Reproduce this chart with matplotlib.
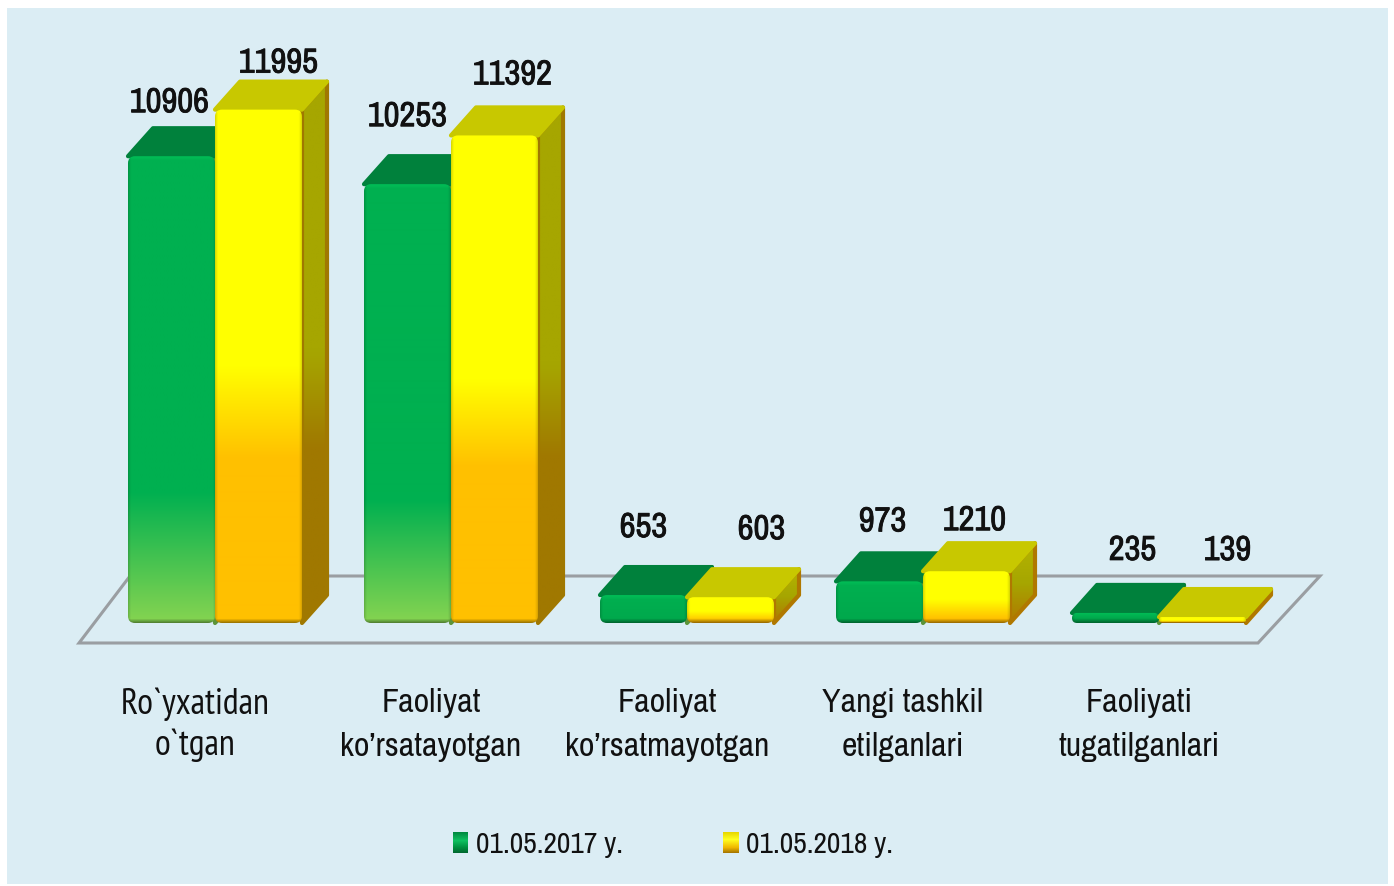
import numpy as np
import matplotlib
matplotlib.use("Agg")
import matplotlib.pyplot as plt
import matplotlib.patheffects as pe
from matplotlib.colors import to_rgb
from matplotlib.patches import FancyBboxPatch, Polygon, Rectangle

categories = ["Ro`yxatidan\no`tgan", "Faoliyat\nko’rsatayotgan", "Faoliyat\nko’rsatmayotgan",
              "Yangi tashkil\netilganlari", "Faoliyati\ntugatilganlari"]
series_names = ["01.05.2017 y.", "01.05.2018 y."]
values_2017 = [10906, 10253, 653, 973, 235]
values_2018 = [11995, 11392, 603, 1210, 139]

# label offsets from the front top centre of each bar, px
label_dx_2017 = [-2, 0, 0, 3, 17]
label_dx_2018 = [20, 18, 31, 8, 25]
label_dy_2017 = [38, 52, 52, 44, 47]
label_dy_2018 = [31, 45, 52, 35, 51]

W, H = 1394, 886
X0, Y0 = 215, 623     # px of first group centre and of the baseline
STEP = 236            # px per category
PX_PER_UNIT = 0.0428  # px per value unit
BAR_W = 87 / STEP
DEPTH_X = 25 / STEP
DEPTH_Y = 28 / PX_PER_UNIT

FONT = ["Archivo Narrow", "PT Sans Narrow", "Liberation Sans"]
FONT_TICK = ["PT Sans Narrow", "Archivo Narrow", "Liberation Sans"]  # keeps the backtick apart
BG = "#DBEDF4"
TEXT = "#111111"

fig = plt.figure(figsize=(W / 100, H / 100), dpi=100, facecolor="white")
ax = fig.add_axes([0, 0, 1, 1])
xlim = (-X0 / STEP, (W - X0) / STEP)
ylim = (-(H - Y0) / PX_PER_UNIT, Y0 / PX_PER_UNIT)


def px(x, y):
    return (x - X0) / STEP, (Y0 - y) / PX_PER_UNIT


def ramp(stops, n):
    t = np.linspace(0, 1, n)
    fr = [s[0] for s in stops]
    cols = np.array([to_rgb(s[1]) for s in stops])
    return np.stack([np.interp(t, fr, cols[:, i]) for i in range(3)], axis=1)


def gradient(stops, height_px):
    # vertical ramp with a thin bevel on every edge
    n = max(int(height_px), 4)
    rgb = ramp(stops, n)
    img = np.repeat(rgb[:, None, :], 87, axis=1)
    side = np.ones(87)
    side[:3] = [0.86, 0.92, 0.97]
    side[-3:] = [0.97, 0.92, 0.86]
    img = img * side[None, :, None]
    bev = np.ones(n)
    k = min(5, n // 2)
    bev[:k] = np.linspace(1.08, 1.0, k)
    bev[-k:] = np.linspace(1.0, 0.62, k)
    return np.clip(img * bev[:, None, None], 0, 1)


def draw_bar(x, val, front, top_col, side_stops, z):
    h = val * PX_PER_UNIT
    # side face
    pts = [(x + BAR_W, 0), (x + BAR_W + DEPTH_X, DEPTH_Y), (x + BAR_W + DEPTH_X, val + DEPTH_Y), (x + BAR_W, val)]
    side_poly = Polygon(pts, closed=True, fc="none", ec="none", zorder=z)
    ax.add_patch(side_poly)
    rgb = ramp(side_stops, 64)[:, None, :]
    im = ax.imshow(rgb, extent=(x + BAR_W, x + BAR_W + DEPTH_X, 0, val + DEPTH_Y), origin="upper",
                   aspect="auto", zorder=z, interpolation="bilinear")
    im.set_clip_path(side_poly)
    edge = Polygon(pts, closed=True, fc="none", ec=side_stops[-1][1], lw=3, joinstyle="round", zorder=z)
    ax.add_patch(edge)
    # top face
    ax.add_patch(Polygon([(x, val), (x + DEPTH_X, val + DEPTH_Y), (x + BAR_W + DEPTH_X, val + DEPTH_Y),
                          (x + BAR_W, val)], closed=True, fc=top_col, ec=top_col, lw=3,
                         joinstyle="round", zorder=z))
    # front face
    box = FancyBboxPatch((x, 0), BAR_W, val, boxstyle=f"round,pad=0,rounding_size={min(7, h / 2) / STEP}",
                         mutation_aspect=STEP / PX_PER_UNIT, fc="none", ec="none", zorder=z + 0.1)
    ax.add_patch(box)
    im = ax.imshow(gradient(front, h), extent=(x, x + BAR_W, 0, val), origin="upper", aspect="auto",
                   zorder=z + 0.1, interpolation="bilinear")
    im.set_clip_path(box)


# panel and floor
ax.add_patch(Rectangle(px(7, 884), 1381 / STEP, 876 / PX_PER_UNIT, fc=BG, ec="none", zorder=0))
floor = [px(79, 643), px(1258, 643), px(1320, 576), px(130, 576)]
ax.add_patch(Polygon(floor, closed=True, fc="none", ec="#9a9ea2", lw=2.2, joinstyle="miter", zorder=1))

green_tall = [(0, "#00B050"), (0.72, "#00B050"), (1, "#86D451")]
green_short = [(0, "#00B050"), (1, "#00A84C")]
yellow_tall = [(0, "#FFFF00"), (0.5, "#FFFF00"), (0.68, "#FFC000"), (1, "#FFC000")]
yellow_short = [(0, "#FFFF00"), (0.55, "#FFFF00"), (1, "#FFB400")]
side_green = [(0, "#007A3A"), (1, "#5C9438")]
side_yellow_tall = [(0, "#A6A600"), (0.5, "#A6A600"), (0.68, "#A07800"), (1, "#A07800")]
side_yellow_short = [(0, "#B4B400"), (0.5, "#A6A600"), (1, "#B07800")]

for i in range(len(categories)):
    tall = values_2018[i] > 2000
    draw_bar(i - BAR_W, values_2017[i], green_tall if tall else green_short, "#00813C", side_green, 2 + i * 2)
    draw_bar(i, values_2018[i], yellow_tall if tall else yellow_short, "#C8C800",
             side_yellow_tall if tall else side_yellow_short, 3 + i * 2)

    for x, val, dx, dy in [(i - BAR_W / 2, values_2017[i], label_dx_2017[i], label_dy_2017[i]),
                           (i + BAR_W / 2, values_2018[i], label_dx_2018[i], label_dy_2018[i])]:
        ax.annotate(str(val), (x, val), xytext=(dx * 0.72, dy * 0.72), textcoords="offset points",
                    ha="center", va="bottom", fontsize=25, family=FONT, color=TEXT, zorder=30,
                    path_effects=[pe.withStroke(linewidth=0.6, foreground=TEXT)])
    lx, ly = px(X0 + i * STEP - 20, 725)
    if "`" in categories[i]:
        ax.text(lx, ly, categories[i], ha="center", va="center", fontsize=26, family=FONT_TICK,
                color=TEXT, linespacing=1.3, zorder=30)
    else:
        ax.text(lx, ly, categories[i], ha="center", va="center", fontsize=24.5, family=FONT,
                color=TEXT, linespacing=1.56, zorder=30)

# legend
for x_sw, x_txt, name, stops in [(453, 476, series_names[0], [(0, "#008A40"), (0.4, "#10C060"), (0.75, "#00903F"), (1, "#006A30")]),
                                 (723, 746, series_names[1], [(0, "#E8D800"), (0.35, "#FFFF20"), (0.75, "#F0B800"), (1, "#A87800")])]:
    x1, y1 = px(x_sw, 853)
    x2, y2 = px(x_sw + 15, 832)
    ax.imshow(ramp(stops, 21)[:, None, :], extent=(x1, x2, y1, y2), origin="upper", aspect="auto",
              zorder=30, interpolation="bilinear")
    tx, ty = px(x_txt, 844)
    ax.text(tx, ty, name, ha="left", va="center", fontsize=21.3, family=FONT, color=TEXT, zorder=30)

ax.set_xlim(xlim)
ax.set_ylim(ylim)
ax.axis("off")
fig.savefig("out.png", dpi=100, facecolor=fig.get_facecolor())
